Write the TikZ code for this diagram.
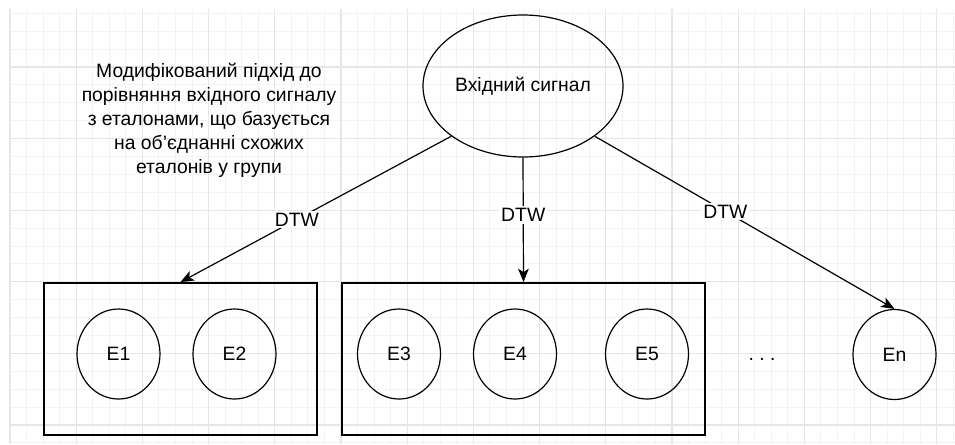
\documentclass[tikz,border=0pt]{standalone}
\usepackage{fontspec}
\setmainfont{Liberation Sans}
\usetikzlibrary{arrows.meta,shapes.geometric}
\definecolor{gridminor}{HTML}{F3F3F3}
\definecolor{gridmajor}{HTML}{E6E6E6}
\tikzset{
	lbl/.style={font=\fontsize{14.5}{18}\selectfont},
	signal/.style={lbl, draw, ellipse, line width=0.9pt, minimum width=150pt, minimum height=106.5pt, inner sep=0pt},
	etalon/.style={lbl, draw, ellipse, line width=0.9pt, minimum width=62.25pt, minimum height=67.5pt, inner sep=0pt},
	group/.style={draw, rectangle, line width=1.4pt, inner sep=0pt, minimum height=114pt},
	dtw/.style={lbl, fill=white, inner sep=1.5pt},
	link/.style={line width=0.9pt, -{Stealth[length=10pt,width=8pt,inset=2.5pt]}}
}

\begin{document}
\begin{tikzpicture}[x=0.75pt, y=-0.75pt]
        \useasboundingbox (0,0) rectangle (955,444);
        \fill[white] (0,0) rectangle (955,444);
        \foreach \gx in {0,...,57} \draw[gridminor, line width=0.75pt] ({10+\gx*16.55},9) -- ({10+\gx*16.55},444);
        \foreach \gy in {0,...,24} \draw[gridminor, line width=0.75pt] (10,{13.3+\gy*17.9}) -- (955,{13.3+\gy*17.9});
        \foreach \gx in {0,...,14} \draw[gridmajor, line width=0.9pt] ({10+\gx*66.2},9) -- ({10+\gx*66.2},444);
        \foreach \gy in {0,...,5} \draw[gridmajor, line width=0.9pt] (10,{67+\gy*71.6}) -- (955,{67+\gy*71.6});

        \node[signal] (sig) at (523,86) {Вхідний сигнал};
        \node[lbl, align=center] (note) at (209,120.5) {Модифікований підхід до\\порівняння вхідного сигналу\\з еталонами, що базується\\на об’єднанні схожих\\еталонів у групи};

        \node[group, minimum width=204.75pt] (box1) at (180.5,359) {};
        \node[group, minimum width=272.25pt] (box2) at (523.5,359) {};

        \node[etalon] (e1) at (118.5,354) {E1};
        \node[etalon] (e2) at (234.5,354) {E2};
        \node[etalon] (e3) at (399,354) {E3};
        \node[etalon] (e4) at (515,354) {E4};
        \node[etalon] (e5) at (647,354) {E5};
        \node[etalon] (en) at (894.5,354.5) {En};
        \node[lbl, inner sep=0pt] (dots) at (762,359) {.\ .\ .};

        \draw[link] (sig.215) -- (box1.north) node[dtw, pos=0.57]{DTW};
        \draw[link] (sig.south) -- (box2.north) node[dtw, pos=0.46]{DTW};
        \draw[link] (sig.-35) -- (en.north) node[dtw, pos=0.436]{DTW};
    \end{tikzpicture}
\end{document}
